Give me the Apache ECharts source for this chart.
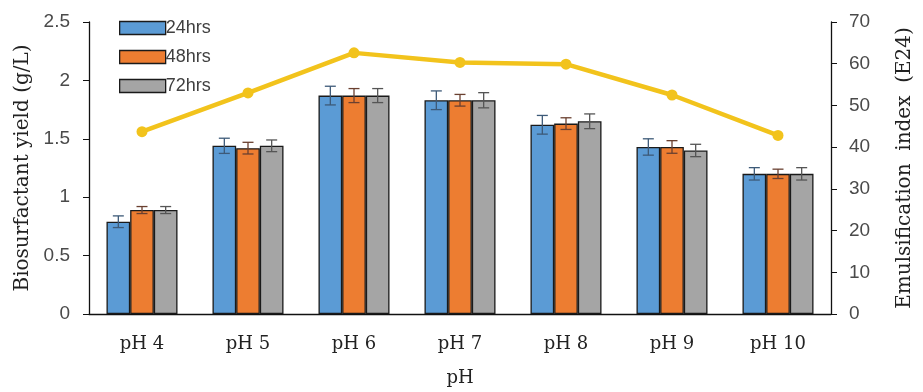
<!DOCTYPE html>
<html>
<head>
<meta charset="utf-8">
<script src="https://cdn.jsdelivr.net/npm/echarts@6/dist/echarts.min.js"></script>
<style>html,body{margin:0;padding:0;background:#fff}#c{width:923px;height:392px}</style>
</head>
<body>
<div id="c"></div>
<script>
const categories = ['pH 4', 'pH 5', 'pH 6', 'pH 7', 'pH 8', 'pH 9', 'pH 10'];
const yield24 = [0.79, 1.44, 1.87, 1.83, 1.62, 1.43, 1.20];
const yield48 = [0.89, 1.42, 1.87, 1.83, 1.63, 1.43, 1.20];
const yield72 = [0.89, 1.44, 1.87, 1.83, 1.65, 1.40, 1.20];
const err24 = [0.05, 0.065, 0.08, 0.08, 0.08, 0.07, 0.053];
const err48 = [0.03, 0.05, 0.06, 0.05, 0.05, 0.054, 0.04];
const err72 = [0.03, 0.05, 0.06, 0.065, 0.063, 0.053, 0.053];
const e24Index = [43.7, 53.0, 62.6, 60.3, 59.9, 52.5, 42.8];
const leftTicks = [0, 0.5, 1, 1.5, 2, 2.5];
const rightTicks = [0, 10, 20, 30, 40, 50, 60, 70];

const chart = echarts.init(document.getElementById('c'));
const gapFrac = 0.33;
const barColors = ['#5B9BD5', '#ED7D31', '#A5A5A5'];
const errColors = ['#3d5a78', '#6a4030', '#555555'];
const valSets = [yield24, yield48, yield72];
const errSets = [err24, err48, err72];
const names = ['24hrs', '48hrs', '72hrs'];
const serif = 'DejaVu Serif';

function errSeries(k) {
  return {
    type: 'custom',
    xAxisIndex: 0, yAxisIndex: 0,
    z: 5,
    silent: true,
    data: valSets[k].map((v, i) => [i, v, errSets[k][i]]),
    renderItem: function (params, api) {
      const i = api.value(0), v = api.value(1), e = api.value(2);
      const band = api.size([1, 0])[0];
      const bw = band * (1 - gapFrac) / 3;
      const c = api.coord([i, v]);
      const x = c[0] + (k - 1) * bw;
      const top = api.coord([i, v + e])[1];
      const bot = api.coord([i, v - e])[1];
      const cap = 5.5;
      const st = { stroke: errColors[k], lineWidth: 1.3, fill: null };
      return {
        type: 'group',
        children: [
          { type: 'line', shape: { x1: x, y1: top, x2: x, y2: bot }, style: st },
          { type: 'line', shape: { x1: x - cap, y1: top, x2: x + cap, y2: top }, style: st },
          { type: 'line', shape: { x1: x - cap, y1: bot, x2: x + cap, y2: bot }, style: st }
        ]
      };
    }
  };
}

const barSeries = [0, 1, 2].map(k => ({
  name: names[k],
  type: 'bar',
  yAxisIndex: 0,
  data: valSets[k],
  barGap: '0%',
  barCategoryGap: (gapFrac * 100) + '%',
  itemStyle: { color: barColors[k], borderColor: '#1a1a1a', borderWidth: 1.3 }
}));

chart.setOption({
  animation: false,
  textStyle: { fontFamily: 'Liberation Sans' },
  grid: { left: 89, right: 88, top: 22, bottom: 78 },
  legend: {
    orient: 'vertical', left: 114, top: 14,
    itemWidth: 46, itemHeight: 13, itemGap: 11,
    icon: 'rect',
    data: names,
    textStyle: { fontFamily: 'Liberation Sans', fontSize: 18, color: '#404040', padding: [0, 0, 0, -5] },
    itemStyle: { borderColor: '#1a1a1a', borderWidth: 1.3 }
  },
  xAxis: {
    type: 'category',
    data: categories,
    name: 'pH',
    nameLocation: 'middle',
    nameGap: 55,
    nameTextStyle: { fontFamily: serif, fontSize: 18, color: '#222' },
    axisLine: { lineStyle: { color: '#111', width: 1.3 } },
    axisTick: { show: false },
    axisLabel: { fontFamily: serif, fontSize: 18, color: '#222', margin: 21 }
  },
  yAxis: [{
    type: 'value', min: 0, max: 2.5, interval: 0.5,
    name: 'Biosurfactant yield (g/L)',
    nameLocation: 'middle', nameRotate: 90, nameGap: 55,
    nameTextStyle: { fontFamily: serif, fontSize: 20, color: '#222' },
    axisLine: { show: true, lineStyle: { color: '#111', width: 1.3 } },
    axisTick: { show: true, length: 6, lineStyle: { color: '#111' } },
    axisLabel: { fontSize: 19, color: '#4a4a4a', margin: 19, formatter: v => leftTicks.includes(v) ? String(v) : '' },
    splitLine: { show: false }
  }, {
    type: 'value', min: 0, max: 70, interval: 10,
    name: 'Emulsification  index  (E24)',
    nameLocation: 'middle', nameRotate: 90, nameGap: 64,
    nameTextStyle: { fontFamily: serif, fontSize: 20, color: '#222' },
    axisLine: { show: true, lineStyle: { color: '#111', width: 1.3 } },
    axisTick: { show: true, length: 6, lineStyle: { color: '#111' } },
    axisLabel: { fontSize: 19, color: '#4a4a4a', margin: 18, formatter: v => rightTicks.includes(v) ? String(v) : '' },
    splitLine: { show: false }
  }],
  series: [
    ...barSeries,
    errSeries(0), errSeries(1), errSeries(2),
    {
      name: 'E24', type: 'line', yAxisIndex: 1, data: e24Index,
      symbol: 'circle', symbolSize: 11, z: 6,
      lineStyle: { color: '#F2C31C', width: 4.5 },
      itemStyle: { color: '#F2C31C' }
    }
  ]
});
</script>
</body>
</html>
